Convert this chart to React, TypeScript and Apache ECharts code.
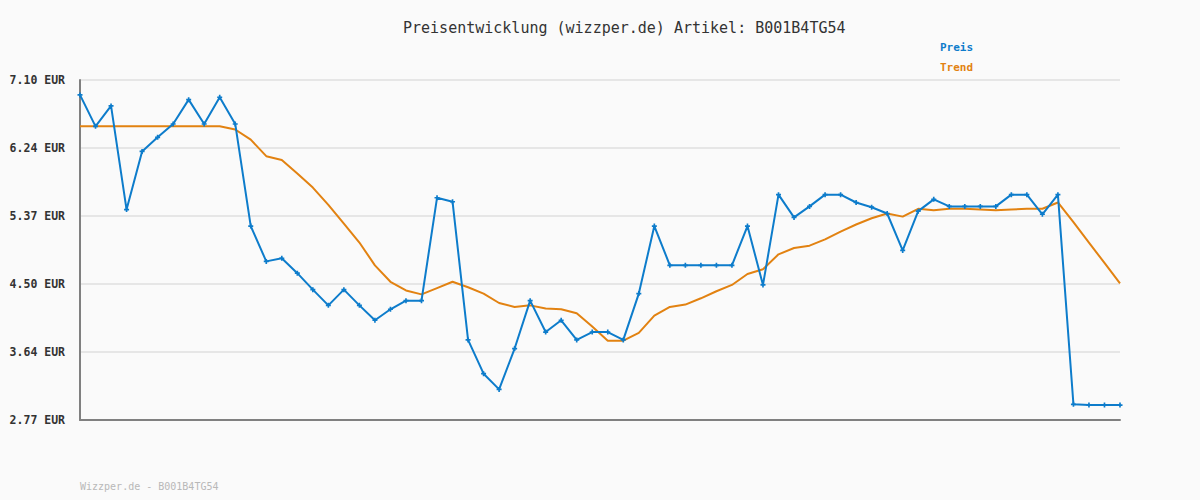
import React, { useEffect, useRef } from "react";
import * as echarts from "echarts";

const titleText = "Preisentwicklung (wizzper.de) Artikel: B001B4TG54";
const footerText = "Wizzper.de - B001B4TG54";

const yTickValues = [2.77, 3.636, 4.502, 5.368, 6.234, 7.1];
const yTickLabels = ["2.77 EUR", "3.64 EUR", "4.50 EUR", "5.37 EUR", "6.24 EUR", "7.10 EUR"];

const preis = [
  6.91, 6.51, 6.77, 5.45, 6.19, 6.37, 6.54, 6.85, 6.54, 6.88,
  6.54, 5.24, 4.79, 4.83, 4.64, 4.43, 4.23, 4.43, 4.23, 4.04,
  4.18, 4.29, 4.29, 5.6, 5.55, 3.79, 3.36, 3.16, 3.68, 4.29,
  3.89, 4.04, 3.79, 3.89, 3.89, 3.79, 4.38, 5.24, 4.74, 4.74,
  4.74, 4.74, 4.74, 5.24, 4.49, 5.64, 5.35, 5.49, 5.64, 5.64,
  5.54, 5.48, 5.4, 4.93, 5.43, 5.58, 5.49, 5.49, 5.49, 5.49,
  5.64, 5.64, 5.39, 5.64, 2.97, 2.96, 2.96, 2.96,
];

const trend = [
  6.51, 6.51, 6.51, 6.51, 6.51, 6.51, 6.51, 6.51, 6.51, 6.51,
  6.47, 6.34, 6.13, 6.08, 5.91, 5.73, 5.51, 5.27, 5.03, 4.74,
  4.53, 4.42, 4.37, 4.45, 4.53, 4.46, 4.38, 4.26, 4.21, 4.23,
  4.19, 4.18, 4.13, 3.96, 3.78, 3.78, 3.88, 4.1, 4.21, 4.24,
  4.32, 4.41, 4.49, 4.63, 4.69, 4.88, 4.96, 4.99, 5.07, 5.17,
  5.26, 5.34, 5.4, 5.36, 5.46, 5.44, 5.46, 5.46, 5.45, 5.44,
  5.45, 5.46, 5.46, 5.54, 5.29, 5.03, 4.77, 4.51,
];

const categories = preis.map((_, i) => String(i + 1));

const BLUE = "#0d7ccb";
const ORANGE = "#e28211";
const MONO = "'DejaVu Sans Mono', 'Liberation Mono', monospace";

export default function App() {
  const ref = useRef<HTMLDivElement>(null);
  useEffect(() => {
    document.body.style.margin = "0";
    const chart = echarts.init(ref.current!, null, { renderer: "svg" });
    chart.setOption({
      animation: false,
      backgroundColor: "#fafafa",
      title: {
        text: titleText,
        left: 398,
        top: 15,
        textStyle: { fontFamily: MONO, fontSize: 15, fontWeight: "normal", color: "#333" },
      },
      legend: {
        orient: "vertical",
        left: 930,
        top: 36,
        itemGap: 9,
        icon: "none",
        itemWidth: 0,
        itemHeight: 12,
        selectedMode: false,
        data: [
          { name: "Preis", textStyle: { color: BLUE } },
          { name: "Trend", textStyle: { color: ORANGE } },
        ],
        textStyle: { fontFamily: MONO, fontSize: 11, fontWeight: "bold" },
      },
      grid: { left: 80, right: 80, top: 80, bottom: 80, containLabel: false },
      xAxis: {
        type: "category",
        data: categories,
        boundaryGap: false,
        axisLine: { lineStyle: { color: "#808080", width: 2 } },
        axisTick: { show: false },
        axisLabel: { show: false },
        splitLine: { show: false },
      },
      yAxis: {
        type: "value",
        min: 2.77,
        max: 7.1,
        axisLine: { show: true, lineStyle: { color: "#808080", width: 2 } },
        axisTick: { show: false, customValues: yTickValues },
        axisLabel: {
          customValues: yTickValues,
          margin: 15,
          fontFamily: MONO,
          fontSize: 11.5,
          fontWeight: "bold",
          color: "#333",
          formatter: (v: number) => {
            let best = 0;
            yTickValues.forEach((t, i) => {
              if (Math.abs(t - v) < Math.abs(yTickValues[best] - v)) best = i;
            });
            return yTickLabels[best];
          },
        },
        splitLine: { show: true, lineStyle: { color: "#e6e6e6", width: 2 } },
      },
      series: [
        {
          name: "Preis",
          type: "line",
          data: preis,
          color: BLUE,
          lineStyle: { width: 2, color: BLUE },
          symbol: "path://M2,0 L4,0 L4,2 L6,2 L6,4 L4,4 L4,6 L2,6 L2,4 L0,4 L0,2 L2,2 Z",
          symbolSize: 5,
          showSymbol: true,
          itemStyle: { color: BLUE },
          z: 3,
        },
        {
          name: "Trend",
          type: "line",
          data: trend,
          color: ORANGE,
          lineStyle: { width: 2, color: ORANGE },
          symbol: "none",
          itemStyle: { color: ORANGE },
          z: 2,
        },
      ],
      graphic: [
        {
          type: "text",
          left: 80,
          top: 481,
          style: { text: footerText, fontFamily: MONO, fontSize: 10, fill: "#b8b8b8" },
        },
      ],
    });
    return () => chart.dispose();
  }, []);
  return <div ref={ref} style={{ width: 1200, height: 500 }} />;
}
